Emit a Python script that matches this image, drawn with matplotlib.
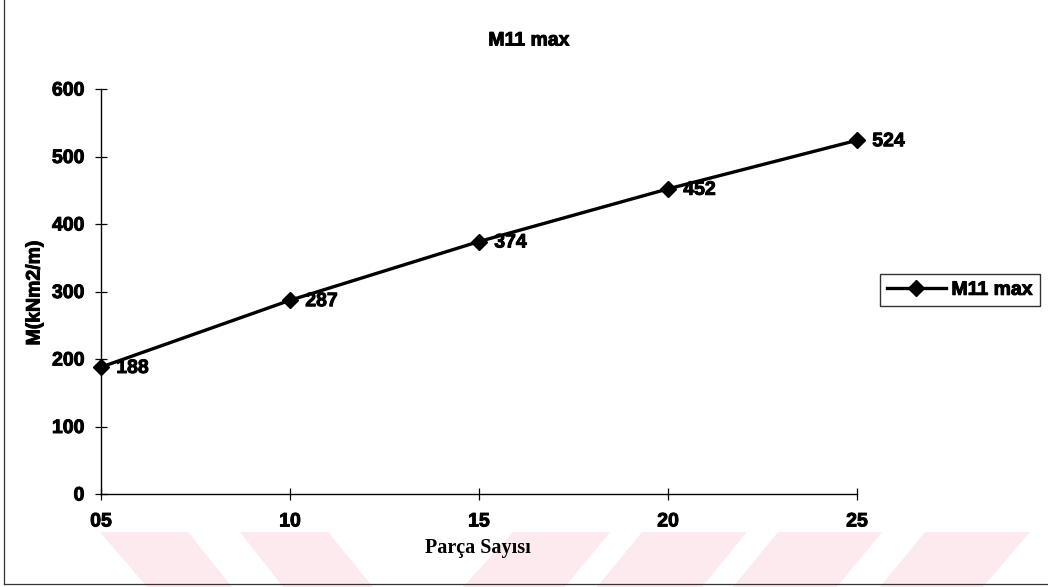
import matplotlib
matplotlib.use("Agg")
import matplotlib.pyplot as plt
import matplotlib.patheffects as pe
from matplotlib.patches import Polygon
from matplotlib.lines import Line2D

# Data
parca_sayisi = ["05", "10", "15", "20", "25"]
m11_max = [188, 287, 374, 452, 524]
y_ticks = [0, 100, 200, 300, 400, 500, 600]
series_name = "M11 max"

W, H = 1048, 587
FS = 14
plt.rcParams["font.family"] = ["Liberation Sans", "DejaVu Sans"]
plt.rcParams["font.weight"] = "bold"

# slightly heavier strokes for all text
heavy = [pe.withStroke(linewidth=0.7, foreground="black")]

fig = plt.figure(figsize=(W / 100, H / 100), dpi=100)


def fx(px):
    return px / W


def fy(py):
    return 1 - py / H


# faint pink band shapes along the bottom of the page
band = [
    [(100, 532), (188, 532), (232, 587), (147, 587)],
    [(240, 532), (328, 532), (373, 587), (283, 587)],
    [(513, 532), (610, 532), (565, 587), (463, 587)],
    [(642, 532), (747, 532), (702, 587), (597, 587)],
    [(778, 532), (882, 532), (837, 587), (733, 587)],
    [(925, 532), (1030, 532), (983, 587), (880, 587)],
]
for shape in band:
    fig.patches.append(Polygon([(fx(x), fy(y)) for x, y in shape], closed=True,
                               transform=fig.transFigure, facecolor="#fdeaee",
                               edgecolor="none", zorder=0))

# page frame (left and bottom edges)
fig.add_artist(Line2D([fx(4), fx(4)], [fy(0), fy(584)], transform=fig.transFigure,
                      color="#333333", lw=0.9))
fig.add_artist(Line2D([fx(4), fx(1048)], [fy(584), fy(584)], transform=fig.transFigure,
                      color="#333333", lw=0.9))

ax = fig.add_axes([fx(101), fy(494), fx(857) - fx(101), (494 - 89) / H])
ax.set_facecolor("none")

x = list(range(len(parca_sayisi)))
ax.plot(x, m11_max, color="black", lw=2.4, marker="D", markersize=8.5,
        markerfacecolor="black", markeredgecolor="black", label=series_name,
        clip_on=False, zorder=3)

for xi, v in zip(x, m11_max):
    ax.annotate(str(v), (xi, v), xytext=(11, -1), textcoords="offset points",
                ha="left", va="center", fontsize=FS, fontweight="bold",
                path_effects=heavy)

ax.set_xlim(0, len(parca_sayisi) - 1)
ax.set_ylim(0, 600)
ax.set_xticks(x)
ax.set_xticklabels(parca_sayisi)
ax.set_yticks(y_ticks)

for side in ("top", "right"):
    ax.spines[side].set_visible(False)
for side in ("left", "bottom"):
    ax.spines[side].set_linewidth(1.0)
    ax.spines[side].set_color("black")

ax.tick_params(axis="both", direction="inout", length=8, width=0.9,
               labelsize=FS, colors="black")
ax.tick_params(axis="x", pad=10)
ax.tick_params(axis="y", pad=8)
for lbl in ax.get_xticklabels() + ax.get_yticklabels():
    lbl.set_path_effects(heavy)

fig.text(fx(35), fy(293), "M(kNm2/m)", rotation=90, ha="center", va="center",
         fontsize=FS, fontweight="bold", path_effects=heavy)
fig.text(fx(478), fy(548), "Parça Sayısı", ha="center", va="center",
         fontsize=14.5, fontweight="bold",
         family=["Liberation Serif", "DejaVu Serif"])
fig.text(fx(529), fy(41), "M11 max", ha="center", va="center",
         fontsize=FS, fontweight="bold", path_effects=heavy)

leg = ax.legend(loc="center", bbox_to_anchor=(fx(960), fy(290)),
                bbox_transform=fig.transFigure, frameon=True, fancybox=False,
                fontsize=FS, handlelength=3.0, handletextpad=0.3,
                borderpad=0.35, borderaxespad=0)
leg.get_frame().set_edgecolor("black")
leg.get_frame().set_linewidth(1.0)
for t in leg.get_texts():
    t.set_fontweight("bold")
    t.set_path_effects(heavy)

fig.savefig("out.png", dpi=100, facecolor="white")
